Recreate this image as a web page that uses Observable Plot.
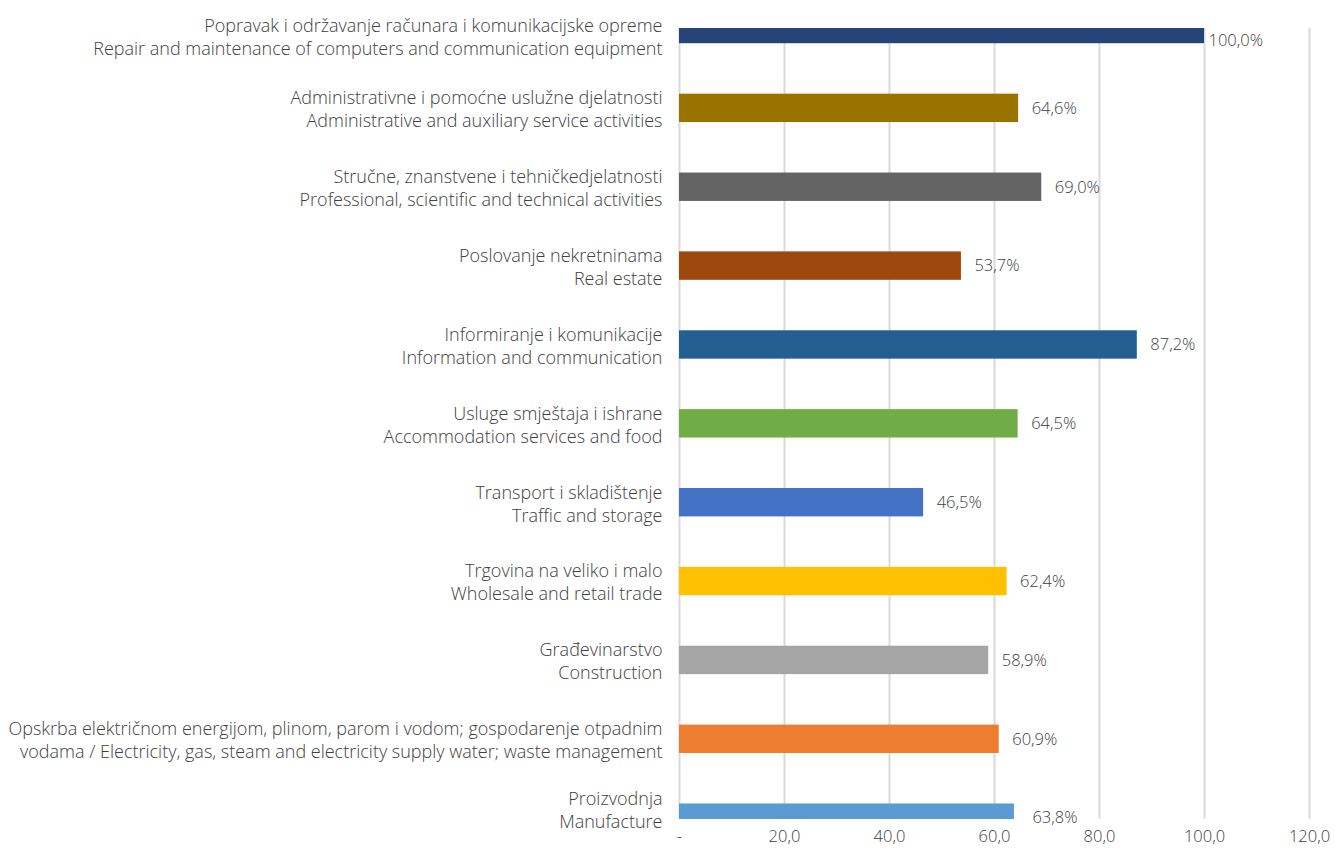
<!DOCTYPE html>
<html>
<head>
<meta charset="utf-8">
<script src="https://cdn.jsdelivr.net/npm/d3@7"></script>
<script src="https://cdn.jsdelivr.net/npm/@observablehq/plot@0.6"></script>
<style>
  html, body { margin: 0; padding: 0; background: #ffffff; }
  #chart svg { display: block; }
</style>
</head>
<body>
<div id="chart"></div>
<script>
const categories = [
  "Popravak i održavanje računara i komunikacijske opreme\nRepair and maintenance of computers and communication equipment",
  "Administrativne i pomoćne uslužne djelatnosti\nAdministrative and auxiliary service activities",
  "Stručne, znanstvene i tehničkedjelatnosti\nProfessional, scientific and technical activities",
  "Poslovanje nekretninama\nReal estate",
  "Informiranje i komunikacije\nInformation and communication",
  "Usluge smještaja i ishrane\nAccommodation services and food",
  "Transport i skladištenje\nTraffic and storage",
  "Trgovina na veliko i malo\nWholesale and retail trade",
  "Građevinarstvo\nConstruction",
  "Opskrba električnom energijom, plinom, parom i vodom; gospodarenje otpadnim\nvodama / Electricity, gas, steam and electricity supply water; waste management",
  "Proizvodnja\nManufacture"
];
const values = [100.0, 64.6, 69.0, 53.7, 87.2, 64.5, 46.5, 62.4, 58.9, 60.9, 63.8];
const colors = ["#264478", "#997300", "#636363", "#9E480E", "#255E91", "#70AD47", "#4472C4", "#FFC000", "#A5A5A5", "#ED7D31", "#5B9BD5"];
const xTicks = [0, 20, 40, 60, 80, 100, 120];

const data = categories.map((c, i) => ({label: c, value: values[i], color: colors[i], i}));
const first = data.filter(d => d.i === 0);
const last = data.filter(d => d.i === data.length - 1);
const middle = data.filter(d => d.i > 0 && d.i < data.length - 1);

const fmtTick = d => d === 0 ? "-" : d.toFixed(1).replace(".", ",");
const fmtVal = d => d.value.toFixed(1).replace(".", ",") + "%";

const font = "'Open Sans', 'Segoe UI', sans-serif";
const lab = {fill: "#404040", fontSize: 18, fontWeight: 300, lineHeight: 1.28, frameAnchor: "left", textAnchor: "end", dx: -17};
const val = {fill: "#404040", fontSize: 16.5, fontWeight: 300, textAnchor: "start"};

const chart = Plot.plot({
  width: 1335,
  height: 849,
  marginLeft: 679,
  marginRight: 26,
  marginTop: 28,
  marginBottom: 30,
  style: {fontFamily: font, fontSize: "16.5px", color: "#404040", background: "#ffffff", fontWeight: 300},
  x: {domain: [0, 120], ticks: xTicks, tickFormat: fmtTick, tickSize: 0, tickPadding: 11, label: null},
  y: {domain: categories, range: [-10.43, 857.1], paddingInner: 0.64, paddingOuter: 0.32, round: false, axis: null},
  color: {type: "identity"},
  marks: [
    Plot.ruleX(xTicks, {stroke: "#d9d9d9", strokeWidth: 2}),
    Plot.barX(data, {x: "value", y: "label", fill: d => d.color, clip: true}),
    Plot.text(middle, {y: "label", text: "label", ...lab}),
    Plot.text(first, {y: "label", text: "label", ...lab, dy: 6.5}),
    Plot.text(last, {y: "label", text: "label", ...lab, dy: -9}),
    Plot.text(middle, {x: "value", y: "label", text: fmtVal, ...val, dx: 13}),
    Plot.text(first, {x: "value", y: "label", text: fmtVal, ...val, dx: 4, dy: 11}),
    Plot.text(last, {x: "value", y: "label", text: fmtVal, ...val, dx: 18, dy: 0})
  ]
});
document.getElementById("chart").appendChild(chart);
</script>
</body>
</html>
